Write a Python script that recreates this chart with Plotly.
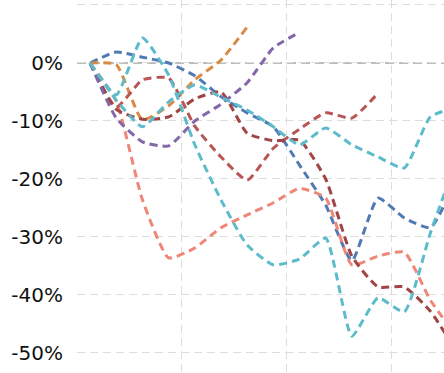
import plotly.graph_objects as go

x_idx = list(range(15))

blue = [0, 1.9, 1.0, 0, -2.2, -5.8, -8.6, -11.0, -17.6, -24.5, -34.1, -23.3, -26.7, -28.4, -19.8]
orange = [0, -0.3, -9.8, -7.4, -2.9, 0.5, 6.2]
salmon = [0, -6.6, -23.6, -33.6, -31.9, -28.4, -26.2, -24.1, -21.6, -23.3, -34.8, -33.3, -32.6, -40.9, -47.1]
red_a = [0, -7.6, -2.9, -2.6, -10.9, -16.2, -20.2, -14.7, -11.4, -8.6, -9.5, -5.2]
red_b = [0, -8.0, -9.7, -9.3, -6.2, -5.0, -12.1, -13.4, -13.3, -20.0, -33.3, -38.6, -38.6, -42.8, -49.8]
purple = [0, -9.5, -13.6, -14.3, -10.0, -7.1, -3.4, 2.6, 5.3]
cyan_a = [0, -5.5, 4.3, -2.1, -14.1, -23.6, -31.4, -34.8, -33.8, -30.2, -47.1, -40.5, -42.9, -29.3, -16.7]
cyan_b = [0, -6.4, -11.0, -6.7, -3.8, -5.9, -8.1, -11.0, -14.1, -11.2, -14.1, -16.2, -18.1, -9.3, -7.6]

y_tick_vals = [10, 0, -10, -20, -30, -40, -50]
y_tick_text = ["", "0%", "-10%", "-20%", "-30%", "-40%", "-50%"]

series = [
    ("blue", blue, "#4F7AB3"),
    ("orange", orange, "#D98B45"),
    ("salmon", salmon, "#EF8677"),
    ("red_a", red_a, "#B95555"),
    ("red_b", red_b, "#A04545"),
    ("purple", purple, "#8466AA"),
    ("cyan_a", cyan_a, "#5CBCCB"),
    ("cyan_b", cyan_b, "#5CBCCB"),
]

fig = go.Figure()
for name, vals, col in series:
    fig.add_trace(go.Scatter(
        x=x_idx[:len(vals)], y=vals, mode="lines", name=name,
        line=dict(color=col, width=3, dash="8px,5px", shape="spline", smoothing=0.5),
        showlegend=False, hoverinfo="skip",
    ))

fig.add_shape(type="line", xref="paper", x0=0, x1=1, yref="y", y0=0, y1=0,
              line=dict(color="#A8A8A8", width=1.5, dash="9px,5px"), layer="below")

fig.update_layout(
    width=444, height=373,
    margin=dict(l=77, r=0, t=0, b=0),
    paper_bgcolor="white", plot_bgcolor="white",
    font=dict(family="DejaVu Sans", size=20, color="#111111"),
)
fig.update_xaxes(
    range=[-0.5, 13.52], tickvals=[-0.5, 3.5, 7.5, 11.5, 15.5],
    showticklabels=False, showgrid=True, gridcolor="#DDDDDD", gridwidth=1,
    griddash="8px,5px", zeroline=False, showline=False, ticks="",
)
fig.update_yaxes(
    range=[-53.45, 10.86], tickvals=y_tick_vals, ticktext=y_tick_text,
    showgrid=True, gridcolor="#DDDDDD", gridwidth=1, griddash="8px,5px",
    zeroline=False, showline=False, ticks="", ticklabelstandoff=13,
)

fig.write_html(
    "out.html",
    config={"displayModeBar": False},
    post_script="document.body.style.margin='0';document.body.style.overflow='hidden';",
)
